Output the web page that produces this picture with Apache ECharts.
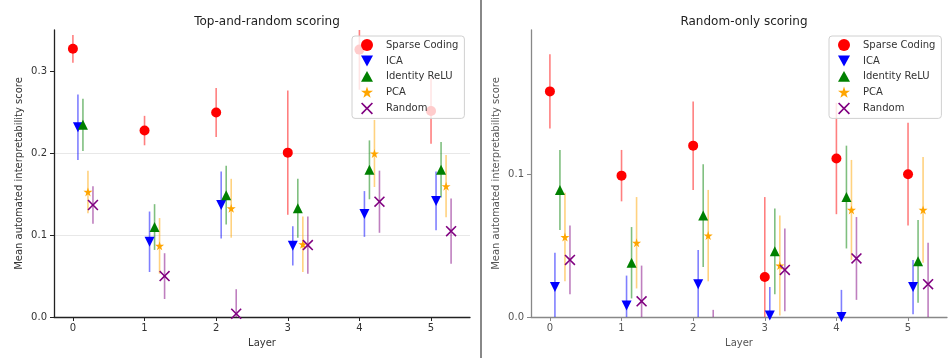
<!DOCTYPE html>
<html>
<head>
<meta charset="utf-8">
<script src="https://cdn.jsdelivr.net/npm/echarts@6/dist/echarts.min.js"></script>
<style>
  html, body { margin: 0; padding: 0; background: #fff; }
  #chart { width: 948px; height: 358px; }
</style>
</head>
<body>
<div id="chart"></div>
<script>
var layers = [0, 1, 2, 3, 4, 5];
var methods = ['Sparse Coding', 'ICA', 'Identity ReLU', 'PCA', 'Random'];
var dodge = [0, 0.07, 0.14, 0.21, 0.28];
var xTicks = [0, 1, 2, 3, 4, 5];

// Top-and-random scoring: mean and half-width of error bar per layer
var topSparse = [0.328, 0.228, 0.250, 0.201, 0.327, 0.252];
var topSparseErr = [0.017, 0.018, 0.030, 0.076, 0.049, 0.040];
var topIca = [0.232, 0.092, 0.137, 0.087, 0.126, 0.142];
var topIcaErr = [0.040, 0.037, 0.041, 0.024, 0.028, 0.036];
var topRelu = [0.235, 0.110, 0.149, 0.133, 0.180, 0.180];
var topReluErr = [0.032, 0.028, 0.036, 0.036, 0.036, 0.034];
var topPca = [0.153, 0.087, 0.133, 0.089, 0.200, 0.160];
var topPcaErr = [0.026, 0.034, 0.036, 0.034, 0.041, 0.038];
var topRandom = [0.137, 0.050, 0.004, 0.088, 0.141, 0.105];
var topRandomErr = [0.023, 0.028, 0.030, 0.035, 0.038, 0.040];

// Random-only scoring
var rndSparse = [0.158, 0.099, 0.120, 0.028, 0.111, 0.100];
var rndSparseErr = [0.026, 0.018, 0.031, 0.056, 0.039, 0.036];
var rndIca = [0.021, 0.008, 0.023, 0.001, 0.000, 0.021];
var rndIcaErr = [0.024, 0.021, 0.024, 0.020, 0.019, 0.019];
var rndRelu = [0.089, 0.038, 0.071, 0.046, 0.084, 0.039];
var rndReluErr = [0.028, 0.025, 0.036, 0.030, 0.036, 0.029];
var rndPca = [0.056, 0.052, 0.057, 0.036, 0.075, 0.075];
var rndPcaErr = [0.031, 0.032, 0.032, 0.035, 0.035, 0.037];
var rndRandom = [0.040, 0.011, -0.020, 0.033, 0.041, 0.023];
var rndRandomErr = [0.024, 0.025, 0.025, 0.029, 0.029, 0.029];

var leftYTicks = [0, 0.1, 0.2, 0.3];
var rightYTicks = [0, 0.1];

var colors = ['#ff0000', '#0000ff', '#008000', '#ffa500', '#800080'];
var TRI_DOWN = 'path://M0,0L10,0L5,9Z';
var TRI_UP = 'path://M5,0L10,9L0,9Z';
var STAR = 'path://M50,0L61,35L98,35L68,57L79,91L50,70L21,91L32,57L2,35L39,35Z';
var CROSS = 'path://M0,1L1,0L5,4L9,0L10,1L6,5L10,9L9,10L5,6L1,10L0,9L4,5Z';
var symbols = ['circle', TRI_DOWN, TRI_UP, STAR, CROSS];
var symbolSizes = [10, 10, 10, 9, 11];

var topMeans = [topSparse, topIca, topRelu, topPca, topRandom];
var topErrs = [topSparseErr, topIcaErr, topReluErr, topPcaErr, topRandomErr];
var rndMeans = [rndSparse, rndIca, rndRelu, rndPca, rndRandom];
var rndErrs = [rndSparseErr, rndIcaErr, rndReluErr, rndPcaErr, rndRandomErr];

var FONT = 'DejaVu Sans';

function errBar(color) {
    return function (params, api) {
        var p1 = api.coord([api.value(0), api.value(1)]);
        var p2 = api.coord([api.value(0), api.value(2)]);
        return {
            type: 'line',
            shape: {x1: p1[0], y1: p1[1], x2: p2[0], y2: p2[1]},
            style: {stroke: color, lineWidth: 1.6, opacity: 0.5}
        };
    };
}

var series = [];
function addPanel(idx, means, errs) {
    methods.forEach(function (name, m) {
        var pts = [], bars = [];
        layers.forEach(function (l, i) {
            var x = l + dodge[m];
            pts.push([x, means[m][i]]);
            bars.push([x, means[m][i] - errs[m][i], means[m][i] + errs[m][i]]);
        });
        series.push({
            name: name + ' err' + idx,
            type: 'custom',
            xAxisIndex: idx, yAxisIndex: idx,
            clip: true,
            silent: true,
            renderItem: errBar(colors[m]),
            encode: {x: 0, y: [1, 2]},
            data: bars,
            z: 2
        });
        series.push({
            name: name,
            type: 'scatter',
            xAxisIndex: idx, yAxisIndex: idx,
            clip: true,
            symbol: symbols[m],
            symbolSize: symbolSizes[m],
            itemStyle: {color: colors[m], opacity: 1},
            data: pts,
            z: 3
        });
    });
}
addPanel(0, topMeans, topErrs);
addPanel(1, rndMeans, rndErrs);

function xAxisCfg(idx, lineColor, labelColor) {
    return {
        type: 'value', gridIndex: idx,
        min: -0.264, max: 5.544,
        name: 'Layer', nameLocation: 'middle', nameGap: 21,
        nameTextStyle: {fontFamily: FONT, fontSize: 10, color: labelColor},
        axisLine: {show: true, onZero: false, lineStyle: {color: lineColor, width: 1.3}},
        axisTick: {show: true, length: 4, customValues: xTicks, lineStyle: {color: lineColor}},
        axisLabel: {customValues: xTicks, margin: 6, fontFamily: FONT, fontSize: 10, color: labelColor},
        splitLine: {show: false}
    };
}
function yAxisCfg(idx, max, ticks, lineColor, labelColor) {
    return {
        type: 'value', gridIndex: idx,
        min: 0, max: max, interval: 0.1,
        name: 'Mean automated interpretability score', nameLocation: 'middle', nameGap: 30,
        nameTextStyle: {fontFamily: FONT, fontSize: 10, color: labelColor},
        axisLine: {show: true, onZero: false, lineStyle: {color: lineColor, width: 1.3}},
        axisTick: {show: true, length: 4, customValues: ticks, lineStyle: {color: lineColor}},
        axisLabel: {customValues: ticks, margin: 7, fontFamily: FONT, fontSize: 10, color: labelColor,
            formatter: function (v) { return v.toFixed(1); }},
        splitLine: {show: true, showMinLine: false, showMaxLine: false, lineStyle: {color: '#e8e8e8', width: 1}}
    };
}

function legendCfg(left) {
    return {
        orient: 'vertical', left: left, top: 36,
        padding: [3, 6, 4, 9], itemGap: 4.6,
        itemWidth: 12, itemHeight: 12,
        backgroundColor: 'rgba(255,255,255,0.8)',
        borderColor: '#d0d0d0', borderWidth: 1, borderRadius: 3,
        textStyle: {fontFamily: FONT, fontSize: 10, color: '#333', padding: [0, 0, 0, 8]},
        selectedMode: false,
        data: methods.map(function (n, m) {
            return {name: n, icon: symbols[m], itemStyle: {color: colors[m]}};
        })
    };
}

var myChart = echarts.init(document.getElementById('chart'));
var option = {
    animation: false,
    backgroundColor: '#fff',
    title: [
        {text: 'Top-and-random scoring', left: 262, top: 11, textAlign: 'center',
            textStyle: {fontFamily: FONT, fontSize: 12, fontWeight: 'normal', color: '#222'}},
        {text: 'Random-only scoring', left: 739, top: 11, textAlign: 'center',
            textStyle: {fontFamily: FONT, fontSize: 12, fontWeight: 'normal', color: '#222'}}
    ],
    legend: [legendCfg(352), legendCfg(829)],
    grid: [
        {left: 54, top: 30, width: 416, height: 287},
        {left: 531, top: 30, width: 416, height: 287}
    ],
    xAxis: [xAxisCfg(0, '#222', '#333'), xAxisCfg(1, '#888', '#555')],
    yAxis: [yAxisCfg(0, 0.351, leftYTicks, '#222', '#333'), yAxisCfg(1, 0.201, rightYTicks, '#888', '#555')],
    graphic: [
        {type: 'rect', left: 480, top: 0, shape: {width: 2, height: 358}, style: {fill: '#888'}, silent: true}
    ],
    series: series
};
myChart.setOption(option);
window.onresize = myChart.resize;
</script>
</body>
</html>
